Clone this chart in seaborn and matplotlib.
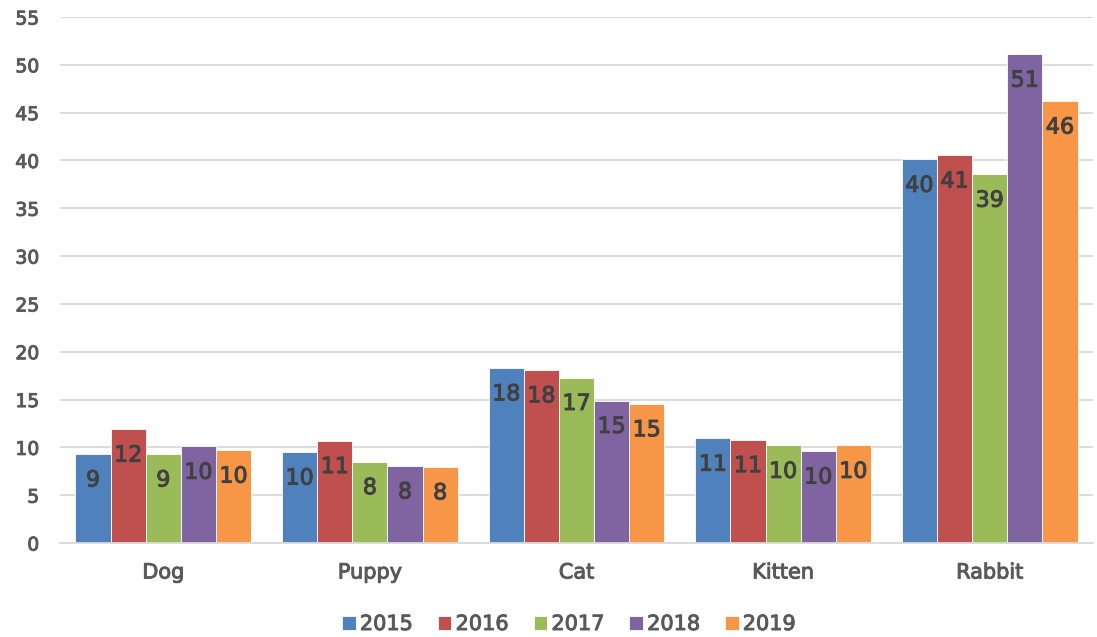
import matplotlib
matplotlib.use("Agg")
import matplotlib.pyplot as plt
import matplotlib.patheffects as pe
import seaborn as sns
import pandas as pd

# Category labels and yearly series values
categories = ["Dog", "Puppy", "Cat", "Kitten", "Rabbit"]
years = ["2015", "2016", "2017", "2018", "2019"]
v2015 = [9.3, 9.5, 18.3, 10.95, 40.1]
v2016 = [11.9, 10.7, 18.1, 10.8, 40.55]
v2017 = [9.3, 8.5, 17.3, 10.2, 38.55]
v2018 = [10.1, 8.05, 14.9, 9.6, 51.1]
v2019 = [9.7, 7.95, 14.55, 10.2, 46.2]
y_ticks = [0, 5, 10, 15, 20, 25, 30, 35, 40, 45, 50, 55]

colors = ["#4F81BD", "#C0504D", "#9BBB59", "#8064A2", "#F79646"]

series = [v2015, v2016, v2017, v2018, v2019]
rows = []
for yr, vals in zip(years, series):
    for cat, v in zip(categories, vals):
        rows.append({"category": cat, "year": yr, "value": v})
df = pd.DataFrame(rows)

sns.set_theme(style="white")
plt.rcParams["font.family"] = ["DejaVu Sans"]


def medium(color):
    # slightly heavier strokes than the regular weight
    return [pe.withStroke(linewidth=0.7, foreground=color)]


fig = plt.figure(figsize=(10.97, 6.37), dpi=100)
ax = fig.add_axes([60 / 1097, 1 - 543 / 637, 1033 / 1097, (543 - 17) / 637])

sns.barplot(data=df, x="category", y="value", hue="year", order=categories,
            hue_order=years, palette=colors, width=0.85, saturation=1,
            edgecolor="white", linewidth=0.6, ax=ax, legend=True, errorbar=None)

ax.set_xlim(-0.5, len(categories) - 0.5)
ax.set_ylim(0, 55)
ax.set_yticks(y_ticks)
ax.yaxis.grid(True, color="#D9D9D9", linewidth=1.3)
ax.set_axisbelow(True)
for side in ["top", "right", "left"]:
    ax.spines[side].set_visible(False)
ax.spines["bottom"].set_color("#D9D9D9")
ax.spines["bottom"].set_linewidth(1.3)
ax.tick_params(axis="both", length=0, colors="#595959")
ax.tick_params(axis="y", pad=15, labelsize=13.5)
ax.tick_params(axis="x", pad=14, labelsize=15)
for lbl in ax.get_xticklabels() + ax.get_yticklabels():
    lbl.set_path_effects(medium("#595959"))
ax.set_xlabel("")
ax.set_ylabel("")

# Value labels near the top inside each bar
for container in ax.containers:
    for bar in container:
        h = bar.get_height()
        ax.annotate(f"{h:.0f}", (bar.get_x() + bar.get_width() / 2, h),
                    xytext=(0, -19), textcoords="offset points",
                    ha="center", va="center", fontsize=16,
                    color="#404040", path_effects=medium("#404040"))

handles, labels = ax.get_legend_handles_labels()
ax.legend_.remove()
leg = fig.legend(handles, labels, loc="center",
                 bbox_to_anchor=(569 / 1097, 1 - 624 / 637),
                 ncol=5, frameon=False, handlelength=0.65,
                 handleheight=0.65, handletextpad=0.2, columnspacing=1.2,
                 labelcolor="#595959", prop={"size": 15})
for t in leg.get_texts():
    t.set_path_effects(medium("#595959"))

fig.savefig("out.png", dpi=100)
